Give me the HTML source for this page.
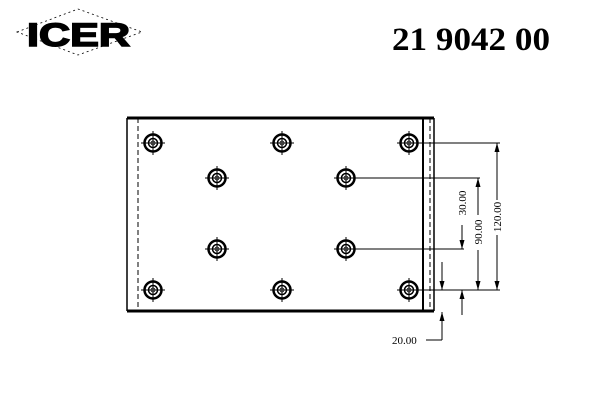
<!DOCTYPE html>
<html><head><meta charset="utf-8"><style>body{margin:0;background:#fff}svg{display:block}</style></head><body>
<svg width="600" height="400" viewBox="0 0 600 400" xmlns="http://www.w3.org/2000/svg">
<defs>
<g id="h" fill="none" stroke="#000">
<circle r="8.5" stroke-width="2.5"/>
<circle r="4.5" stroke-width="1.5"/>
<circle r="2" stroke-width="0.8"/>
<line x1="-12" y1="0" x2="12" y2="0" stroke-width="1"/>
<line x1="0" y1="-12" x2="0" y2="12" stroke-width="1"/>
</g>
<marker id="a" markerUnits="userSpaceOnUse" markerWidth="9" markerHeight="5" refX="9" refY="2.5" orient="auto-start-reverse" viewBox="0 0 9 5"><path d="M0,0 L9,2.5 L0,5z" fill="#000"/></marker>
</defs>
<polygon points="17,32 78,9 142,32 78,55" fill="none" stroke="#000" stroke-width="0.8" stroke-dasharray="2,3"/>
<text x="27" y="46" font-family="Liberation Sans,sans-serif" font-weight="bold" font-size="32" stroke="#000" stroke-width="1.5" textLength="103" lengthAdjust="spacingAndGlyphs">ICER</text>
<text x="392" y="50" font-family="Liberation Serif,serif" font-weight="bold" font-size="33" textLength="158" lengthAdjust="spacingAndGlyphs">21 9042 00</text>
<g stroke="#000" fill="none">
<line x1="127" y1="118" x2="434" y2="118" stroke-width="3"/>
<line x1="127" y1="311" x2="434" y2="311" stroke-width="3"/>
<line x1="127" y1="118" x2="127" y2="311" stroke-width="1.5"/>
<line x1="138" y1="118" x2="138" y2="311" stroke-width="1" stroke-dasharray="5,3"/>
<line x1="423" y1="118" x2="423" y2="311" stroke-width="2"/>
<line x1="430" y1="118" x2="430" y2="311" stroke-width="1" stroke-dasharray="5,3"/>
<line x1="434" y1="118" x2="434" y2="311" stroke-width="1.5"/>
<g stroke-width="1">
<line x1="409" y1="143" x2="500" y2="143"/>
<line x1="346" y1="178" x2="480" y2="178"/>
<line x1="346" y1="249" x2="464" y2="249"/>
<line x1="409" y1="290" x2="500" y2="290"/>
<line x1="497" y1="143" x2="497" y2="200" marker-start="url(#a)"/>
<line x1="497" y1="235" x2="497" y2="290" marker-end="url(#a)"/>
<line x1="478" y1="178" x2="478" y2="215" marker-start="url(#a)"/>
<line x1="478" y1="250" x2="478" y2="290" marker-end="url(#a)"/>
<line x1="462" y1="225" x2="462" y2="249" marker-end="url(#a)"/>
<line x1="442" y1="262" x2="442" y2="290" marker-end="url(#a)"/>
<line x1="462" y1="315" x2="462" y2="290" marker-end="url(#a)"/>
<line x1="442" y1="340" x2="442" y2="312" marker-end="url(#a)"/>
<line x1="442" y1="340" x2="426" y2="340"/>
</g>
</g>
<g font-family="Liberation Serif,serif" font-size="11">
<text transform="translate(501,217) rotate(-90)" text-anchor="middle">120.00</text>
<text transform="translate(482,232) rotate(-90)" text-anchor="middle">90.00</text>
<text transform="translate(466,203) rotate(-90)" text-anchor="middle">30.00</text>
<text x="392" y="344">20.00</text>
</g>
<use href="#h" x="153" y="143"/><use href="#h" x="282" y="143"/><use href="#h" x="409" y="143"/>
<use href="#h" x="217" y="178"/><use href="#h" x="346" y="178"/>
<use href="#h" x="217" y="249"/><use href="#h" x="346" y="249"/>
<use href="#h" x="153" y="290"/><use href="#h" x="282" y="290"/><use href="#h" x="409" y="290"/>
</svg>
</body></html>
